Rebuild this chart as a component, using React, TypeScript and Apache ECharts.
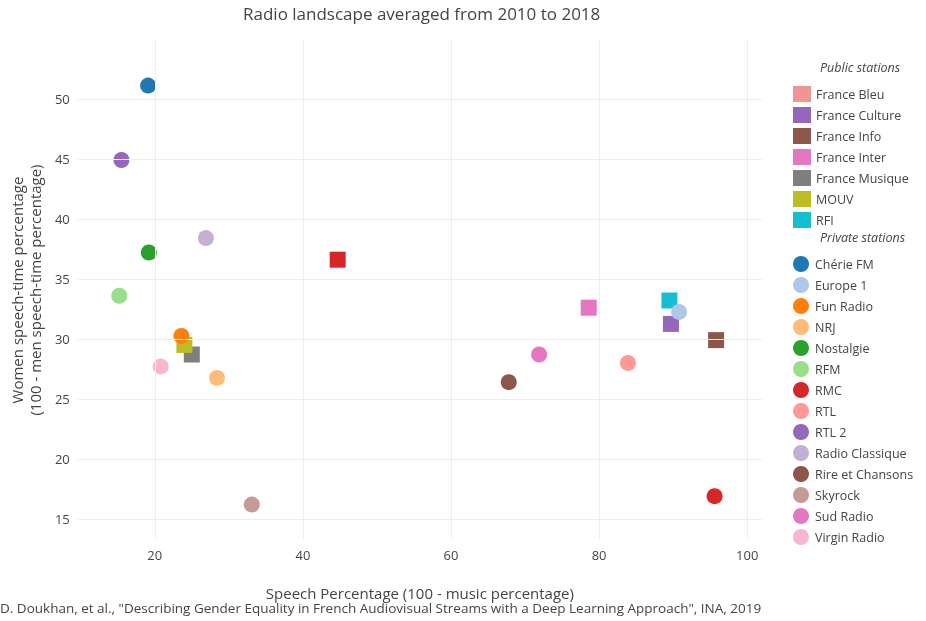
import { useEffect, useRef } from "react";
import * as echarts from "echarts";

const publicNames = ["France Bleu", "France Culture", "France Info", "France Inter", "France Musique", "MOUV", "RFI"];
const publicColors = ["#d62728", "#9467bd", "#8c564b", "#e377c2", "#7f7f7f", "#bcbd22", "#17becf"];
const publicLegendColors = ["#ef9593", "#9467bd", "#8c564b", "#e377c2", "#7f7f7f", "#bcbd22", "#17becf"];
const publicX = [44.7, 89.7, 95.8, 78.6, 25.0, 24.0, 89.5];
const publicY = [36.6, 31.25, 29.9, 32.6, 28.7, 29.5, 33.2];

const privateNames = ["Chérie FM", "Europe 1", "Fun Radio", "NRJ", "Nostalgie", "RFM", "RMC", "RTL", "RTL 2", "Radio Classique", "Rire et Chansons", "Skyrock", "Sud Radio", "Virgin Radio"];
const privateColors = ["#1f77b4", "#aec7e8", "#ff7f0e", "#ffbb78", "#2ca02c", "#98df8a", "#d62728", "#ff9896", "#9467bd", "#c5b0d5", "#8c564b", "#c49c94", "#e377c2", "#f7b6d2"];
const privateX = [19.1, 90.8, 23.6, 28.4, 19.2, 15.2, 95.6, 83.9, 15.5, 26.9, 67.8, 33.1, 71.9, 20.8];
const privateY = [51.1, 32.25, 30.25, 26.75, 37.2, 33.6, 16.9, 28.0, 44.9, 38.4, 26.4, 16.2, 28.7, 27.7];

const xTicks = [20, 40, 60, 80, 100];
const yTicks = [15, 20, 25, 30, 35, 40, 45, 50];

const FONT = "'Open Sans', sans-serif";

export default function App() {
  const ref = useRef<HTMLDivElement>(null);
  useEffect(() => {
    if (!ref.current) return;
    const chart = echarts.init(ref.current, null, { renderer: "svg" });
    const series: any[] = [
      {
        type: "scatter", data: [], silent: true, z: 0,
        markLine: {
          silent: true, symbol: "none", label: { show: false },
          lineStyle: { color: "#eeeeee", type: "solid", width: 1 },
          data: [...xTicks.map((v) => ({ xAxis: v })), ...yTicks.map((v) => ({ yAxis: v }))],
        },
      },
    ];
    publicNames.forEach((n, i) =>
      series.push({ name: n, type: "scatter", symbol: "rect", symbolSize: 16, itemStyle: { color: publicColors[i], opacity: 1 }, data: [[publicX[i], publicY[i]]] })
    );
    privateNames.forEach((n, i) =>
      series.push({ name: n, type: "scatter", symbol: "circle", symbolSize: 16, itemStyle: { color: privateColors[i], opacity: 1 }, data: [[privateX[i], privateY[i]]] })
    );
    const legendBase = {
      orient: "vertical", left: 788, itemWidth: 18, itemHeight: 16, itemGap: 5,
      textStyle: { fontFamily: FONT, fontSize: 12.5, color: "#444" },
    };
    chart.setOption({
      animation: false,
      textStyle: { fontFamily: FONT },
      title: { text: "Radio landscape averaged from 2010 to 2018", left: 238, top: 0, textStyle: { fontFamily: FONT, fontSize: 17, fontWeight: "normal", color: "#444" } },
      grid: { left: 67, right: 164, top: 40, bottom: 81 },
      xAxis: {
        type: "value", min: 9.6, max: 102,
        axisLabel: { customValues: xTicks, fontSize: 13, color: "#444" },
        axisTick: { show: false, customValues: xTicks },
        axisLine: { show: false },
        splitLine: { show: false },
        name: "Speech Percentage (100 - music percentage)", nameLocation: "middle", nameGap: 45,
        nameTextStyle: { fontSize: 15, color: "#444" },
      },
      yAxis: {
        type: "value", min: 13.25, max: 54.9,
        axisLabel: { customValues: yTicks, fontSize: 13, color: "#444" },
        axisTick: { show: false, customValues: yTicks },
        axisLine: { show: false },
        splitLine: { show: false },
        name: "Women speech-time percentage\n(100 - men speech-time percentage)", nameLocation: "middle", nameGap: 30,
        nameTextStyle: { fontSize: 15, color: "#444", lineHeight: 18 },
      },
      legend: [
        { ...legendBase, top: 81, data: publicNames.map((n, i) => ({ name: n, icon: "rect", itemStyle: { color: publicLegendColors[i] } })) },
        { ...legendBase, top: 251, data: privateNames.map((n) => ({ name: n, icon: "circle" })) },
      ],
      graphic: [
        { type: "text", left: 820, top: 61, style: { text: "Public stations", font: `italic 12.5px ${FONT}`, fill: "#444" } },
        { type: "text", left: 820, top: 231, style: { text: "Private stations", font: `italic 12.5px ${FONT}`, fill: "#444" } },
        { type: "text", left: 0, top: 601, style: { text: 'D. Doukhan, et al., "Describing Gender Equality in French Audiovisual Streams with a Deep Learning Approach", INA, 2019', font: `13.5px ${FONT}`, fill: "#444" } },
      ],
      series,
    });
    return () => chart.dispose();
  }, []);
  return <div ref={ref} style={{ width: 926, height: 621, position: "fixed", left: 0, top: 0 }} />;
}
